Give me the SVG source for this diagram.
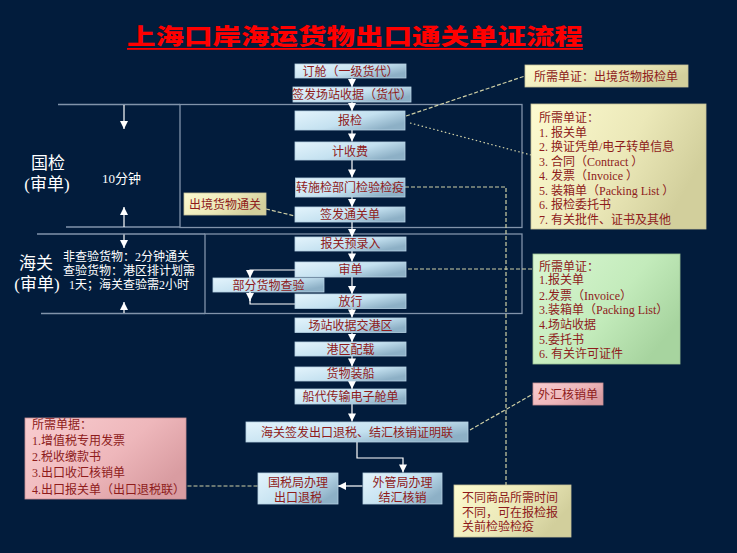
<svg xmlns="http://www.w3.org/2000/svg" width="737" height="553" viewBox="0 0 737 553">
<defs>
<linearGradient id="gBlue" x1="0" y1="0" x2="1" y2="0.6">
<stop offset="0" stop-color="#e4f4fc"/><stop offset="0.6" stop-color="#c4e1f0"/><stop offset="1" stop-color="#8db0c6"/>
</linearGradient>
<linearGradient id="gYel" x1="0" y1="0" x2="1" y2="0.4">
<stop offset="0" stop-color="#fdfbd0"/><stop offset="0.6" stop-color="#ebe8b8"/><stop offset="1" stop-color="#d2cf9c"/>
</linearGradient>
<linearGradient id="gGrn" x1="0" y1="0" x2="1" y2="0.6">
<stop offset="0" stop-color="#d9f6d2"/><stop offset="0.6" stop-color="#c3ebbb"/><stop offset="1" stop-color="#a7d49f"/>
</linearGradient>
<linearGradient id="gPink" x1="0" y1="0" x2="1" y2="0.6">
<stop offset="0" stop-color="#f9cdd0"/><stop offset="0.6" stop-color="#eeb7bb"/><stop offset="1" stop-color="#d99ca1"/>
</linearGradient>
<marker id="ah" viewBox="0 0 10 10" refX="10" refY="5" markerWidth="9" markerHeight="8" markerUnits="userSpaceOnUse" orient="auto">
<path d="M0,0 L10,5 L0,10 z" fill="#ffffff"/>
</marker>
<style>
.flow{fill:url(#gBlue);stroke:#b7d3e4;stroke-width:0.8}
.yel{fill:url(#gYel);stroke:#c9c49a;stroke-width:0.8}
.grn{fill:url(#gGrn);stroke:#9cc494;stroke-width:0.8}
.pink{fill:url(#gPink);stroke:#c98f95;stroke-width:0.8}
.t{font-family:"Liberation Serif","Noto Sans CJK SC",serif;font-size:12px;fill:#8e1b1b}
.c{text-anchor:middle}
.w{font-family:"Liberation Serif","Noto Sans CJK SC",serif;fill:#ffffff}
.arr{fill:none;stroke:#ffffff;stroke-width:1.2;marker-end:url(#ah)}
.ln{fill:none;stroke:#ffffff;stroke-width:1.2}
.dash{fill:none;stroke:#cfcfa6;stroke-width:1.2;stroke-dasharray:4 2}
.dot{fill:none;stroke:#cfcfa6;stroke-width:1.2;stroke-dasharray:1.5 2.5}
.reg{fill:none;stroke:#8193aa;stroke-width:1.3}
</style>
</defs>
<rect x="0" y="0" width="737" height="553" fill="#021c3c"/>

<g id="title">
<text x="127" y="44" textLength="456" lengthAdjust="spacingAndGlyphs" font-family="Noto Sans CJK SC, sans-serif" font-weight="900" font-size="22" fill="#ff0000">上海口岸海运货物出口通关单证流程</text>
<rect x="127" y="48" width="456" height="1.8" fill="#ff0000"/>
</g>

<g id="regions">
<path class="reg" d="M58,104.5 H180 M66,227 H180"/>
<rect class="reg" x="180" y="104.5" width="342" height="123"/>
<path class="reg" d="M37,234 H205 M41,313.5 H205"/>
<rect class="reg" x="205" y="234" width="317" height="79.5"/>
<text class="w c" x="48" y="168.5" font-size="17">国检</text>
<text class="w c" x="47" y="190" font-size="17">(审单)</text>
<text class="w" x="102" y="182.5" font-size="13">10分钟</text>
<text class="w c" x="36" y="268.5" font-size="17">海关</text>
<text class="w c" x="37" y="290" font-size="17">(审单)</text>
<text class="w" x="63" y="261" font-size="12">非查验货物：2分钟通关</text>
<text class="w" x="63" y="275" font-size="12">查验货物：港区排计划需</text>
<text class="w" x="69" y="289" font-size="12">1天；海关查验需2小时</text>
</g>

<g id="connectors">
<path class="arr" d="M124,105 V129"/>
<path class="arr" d="M124,227 V207"/>
<path class="arr" d="M124,234.5 V248"/>
<path class="arr" d="M124,313 V302"/>
<path class="arr" d="M352,78 V87"/>
<path class="arr" d="M352,102 V111"/>
<path class="arr" d="M352,130 V141.5"/>
<path class="arr" d="M352,160 V177.5"/>
<path class="arr" d="M352,197 V207"/>
<path class="arr" d="M352,222 V237"/>
<path class="arr" d="M352,251 V261.5"/>
<path class="arr" d="M352,277 V294"/>
<path class="arr" d="M295,270 H250 V278"/>
<path class="ln" d="M250,292 V304 H295"/>
<path class="arr" d="M250,292 V301"/>
<path class="arr" d="M352,308.5 V317.5"/>
<path class="arr" d="M352,332.5 V342"/>
<path class="arr" d="M352,356 V366.5"/>
<path class="arr" d="M352,381 V389"/>
<path class="arr" d="M352,404 V421.5"/>
<path class="arr" d="M357,442 V458 H403 V472.5"/>
<path class="arr" d="M362.5,486 H338"/>
<path class="dash" d="M406,116 L525,76"/>
<path class="dot" d="M410,123 L531,155"/>
<path class="dash" d="M266,209 L295,216"/>
<path class="dash" d="M405,187 H506 V485"/>
<path class="dash" d="M408,269 H533"/>
<path class="dash" d="M470,430 L533,394"/>
<path class="dash" d="M257.5,486 H186"/>
</g>

<g id="n1"><rect class="flow" x="295" y="64" width="111" height="14"/><text class="t c" x="350.5" y="75.5">订舱（一级货代）</text></g>
<g id="n2"><rect class="flow" x="293" y="87" width="118" height="15"/><text class="t c" x="352" y="99" font-size="11.5">签发场站收据（货代）</text></g>
<g id="n3"><rect class="flow" x="295" y="111" width="110" height="19"/><text class="t c" x="350" y="125">报检</text></g>
<g id="n4"><rect class="flow" x="295" y="142" width="110" height="18"/><text class="t c" x="350" y="155.5">计收费</text></g>
<g id="n5"><rect class="flow" x="295.5" y="178" width="109.5" height="19"/><text class="t c" x="350" y="191.5">转施检部门检验检疫</text></g>
<g id="n6"><rect class="flow" x="295" y="207" width="110" height="15"/><text class="t c" x="350" y="218.5">签发通关单</text></g>
<g id="n7"><rect class="flow" x="295" y="237" width="111" height="14"/><text class="t c" x="350.5" y="248">报关预录入</text></g>
<g id="n8"><rect class="flow" x="295" y="262" width="111" height="15"/><text class="t c" x="350.5" y="273.5">审单</text></g>
<g id="n9"><rect class="flow" x="213" y="278" width="111" height="14"/><text class="t c" x="268.5" y="289.5">部分货物查验</text></g>
<g id="n10"><rect class="flow" x="295" y="294" width="111" height="14.5"/><text class="t c" x="350.5" y="305.5">放行</text></g>
<g id="n11"><rect class="flow" x="295" y="318" width="111" height="14.5"/><text class="t c" x="350.5" y="329.5">场站收据交港区</text></g>
<g id="n12"><rect class="flow" x="295" y="342" width="111" height="14"/><text class="t c" x="350.5" y="353.5">港区配载</text></g>
<g id="n13"><rect class="flow" x="295" y="367" width="111" height="14"/><text class="t c" x="350.5" y="378">货物装船</text></g>
<g id="n14"><rect class="flow" x="295" y="389" width="111" height="15"/><text class="t c" x="350.5" y="401">船代传输电子舱单</text></g>
<g id="n15"><rect class="flow" x="246" y="422" width="222" height="20"/><text class="t c" x="357" y="436.5">海关签发出口退税、结汇核销证明联</text></g>
<g id="n16"><rect class="flow" x="363" y="473" width="79" height="31"/><text class="t c" x="402.5" y="487">外管局办理</text><text class="t c" x="402.5" y="501.5">结汇核销</text></g>
<g id="n17"><rect class="flow" x="258" y="473" width="80" height="31"/><text class="t c" x="298" y="487">国税局办理</text><text class="t c" x="298" y="501.5">出口退税</text></g>

<g id="c1"><rect class="yel" x="525" y="65" width="163" height="22"/><text class="t" x="534" y="81">所需单证：出境货物报检单</text></g>
<g id="c2"><rect class="yel" x="184" y="193" width="82" height="22"/><text class="t c" x="225" y="208.5">出境货物通关</text></g>
<g id="c3"><rect class="yel" x="531" y="104" width="175" height="125"/>
<text class="t" x="539" y="122">所需单证：</text>
<text class="t" x="539" y="136.5">1. 报关单</text>
<text class="t" x="539" y="151">2. 换证凭单/电子转单信息</text>
<text class="t" x="539" y="165.5">3. 合同（Contract ）</text>
<text class="t" x="539" y="180">4. 发票（Invoice ）</text>
<text class="t" x="539" y="194.5">5. 装箱单（Packing List ）</text>
<text class="t" x="539" y="209">6. 报检委托书</text>
<text class="t" x="539" y="223.5">7. 有关批件、证书及其他</text>
</g>
<g id="c4"><rect class="grn" x="533" y="254" width="147" height="110"/>
<text class="t" x="539" y="271">所需单证：</text>
<text class="t" x="539" y="284">1.报关单</text>
<text class="t" x="539" y="299.5">2.发票（Invoice）</text>
<text class="t" x="539" y="313.5">3.装箱单（Packing List）</text>
<text class="t" x="539" y="328.5">4.场站收据</text>
<text class="t" x="539" y="343.5">5.委托书</text>
<text class="t" x="539" y="358">6. 有关许可证件</text>
</g>
<g id="c5"><rect class="pink" x="533" y="383" width="70" height="22"/><text class="t c" x="568" y="398.5">外汇核销单</text></g>
<g id="c6"><rect class="yel" x="454" y="485" width="117" height="52"/>
<text class="t" x="462" y="502" font-size="12.5">不同商品所需时间</text>
<text class="t" x="462" y="516.5" font-size="12.5">不同，可在报检报</text>
<text class="t" x="462" y="531" font-size="12.5">关前检验检疫</text>
</g>
<g id="c7"><rect class="pink" x="25" y="418" width="161" height="81"/>
<text class="t" x="32" y="428.5" font-size="12.5">所需单据：</text>
<text class="t" x="32" y="445" font-size="12.5">1.增值税专用发票</text>
<text class="t" x="32" y="461" font-size="12.5">2.税收缴款书</text>
<text class="t" x="32" y="477" font-size="12.5">3.出口收汇核销单</text>
<text class="t" x="32" y="493.5" font-size="12.5">4.出口报关单（出口退税联）</text>
</g>
</svg>
